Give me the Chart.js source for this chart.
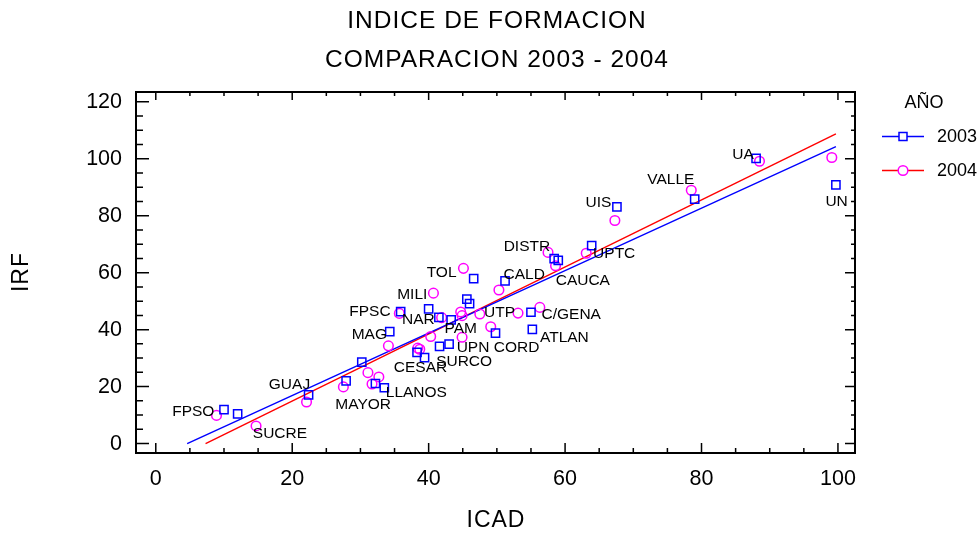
<!DOCTYPE html>
<html>
<head>
<meta charset="utf-8">
<script src="https://cdn.jsdelivr.net/npm/chart.js@4.4.1/dist/chart.umd.min.js"></script>
<style>
  body { margin: 0; background: #fff; }
  #wrap { width: 979px; height: 536px; }
</style>
</head>
<body>
<div id="wrap"><canvas id="myChart" width="979" height="536"></canvas></div>
<script>
// ICAD (x) and IRF (y) per university
var icad2003 = [10.0, 12.0, 22.4, 27.9, 30.2, 32.2, 33.5, 34.3, 35.9, 38.3, 39.4, 40.0, 41.5, 43.3, 41.6,
                43.0, 45.6, 46.0, 46.6, 49.8, 51.2, 55.0, 55.2, 58.4, 59.0, 63.9, 67.6, 79.0, 88.0, 99.7];
var irf2003  = [11.9, 10.4, 17.1, 22.0, 28.6, 21.1, 19.6, 39.3, 46.3, 32.0, 30.2, 47.3, 44.3, 43.4, 34.1,
                34.9, 50.7, 49.1, 57.9, 38.8, 57.1, 46.1, 40.1, 64.9, 64.3, 69.5, 83.1, 85.8, 100.1, 90.8];
var icad2004 = [8.9, 14.7, 22.1, 27.5, 31.1, 31.7, 32.7, 34.1, 35.7, 38.4, 38.7, 40.3, 40.7, 41.9, 44.7,
                44.9, 44.9, 45.1, 47.5, 49.1, 50.3, 53.1, 56.3, 57.5, 58.6, 63.1, 67.3, 78.5, 88.5, 99.1];
var irf2004  = [9.9, 6.2, 14.6, 19.9, 24.9, 20.9, 23.4, 34.3, 45.7, 33.5, 33.1, 37.6, 52.8, 44.2, 46.2,
                44.9, 37.3, 61.5, 45.5, 41.0, 53.9, 45.8, 47.8, 67.1, 62.4, 66.8, 78.3, 88.9, 99.1, 100.4];

// fitted lines, end points as seen in the picture
var fitX2003 = [4.6, 99.7];
var fitY2003 = [0, 104.2];
var fitX2004 = [7.3, 99.7];
var fitY2004 = [0, 108.7];

// point names and where they sit
var names  = ["FPSO", "SUCRE", "GUAJ", "MAYOR", "LLANOS", "CESAR", "SURCO", "UPN", "CORD", "ATLAN", "PAM", "NAR", "MAG",
              "FPSC", "MILI", "TOL", "CALD", "DISTR", "CAUCA", "UTP", "C/GENA", "UPTC", "UIS", "VALLE", "UA", "UN"];
var nameX  = [5.5, 18.2, 19.6, 30.4, 38.2, 38.8, 45.2, 46.5, 52.9, 59.9, 44.7, 38.5, 31.3,
              31.4, 37.6, 41.9, 54.0, 54.4, 62.6, 50.4, 60.9, 67.2, 64.9, 75.5, 86.1, 99.8];
var nameY  = [11.1, 3.5, 20.7, 13.7, 17.8, 26.7, 28.8, 33.5, 33.5, 37.0, 40.3, 43.5, 38.3,
              46.2, 52.2, 60.0, 59.2, 69.2, 57.2, 46.0, 45.2, 66.5, 84.4, 92.5, 101.5, 84.9];

var xTicks = [0, 20, 40, 60, 80, 100];
var yTicks = [0, 20, 40, 60, 80, 100, 120];
var years = ["2003", "2004"];

var FONT = "'Liberation Sans', Arial, sans-serif";

function toPoints(xs, ys) {
    var out = [];
    for (var i = 0; i < xs.length; i++) {
        out.push({x: xs[i], y: ys[i]});
    }
    return out;
}

// frame, inward ticks, names, titles and legend
var extras = {
    id: 'extras',
    afterDraw: function(chart) {
        var ctx = chart.ctx;
        var a = chart.chartArea;
        var xs = chart.scales.x, ys = chart.scales.y;
        ctx.save();
        ctx.strokeStyle = '#000';
        ctx.lineWidth = 2;
        ctx.strokeRect(a.left, a.top, a.right - a.left, a.bottom - a.top);

        ctx.lineWidth = 1.5;
        ctx.beginPath();
        for (var v = 0; v <= 100; v += 5) {
            var px = xs.getPixelForValue(v);
            var big = (v % 20 == 0);
            ctx.moveTo(px, a.bottom); ctx.lineTo(px, a.bottom - (big ? 10 : 5));
            ctx.moveTo(px, a.top); ctx.lineTo(px, a.top + (big ? 8 : 4));
        }
        for (var w = 0; w <= 120; w += 5) {
            var py = ys.getPixelForValue(w);
            var big2 = (w % 20 == 0);
            ctx.moveTo(a.left, py); ctx.lineTo(a.left + (big2 ? 13 : 7), py);
            ctx.moveTo(a.right, py); ctx.lineTo(a.right - (big2 ? 10 : 4), py);
        }
        ctx.stroke();

        ctx.fillStyle = '#000';
        ctx.textAlign = 'center';
        ctx.textBaseline = 'middle';
        ctx.font = '15.5px ' + FONT;
        for (var i = 0; i < names.length; i++) {
            ctx.fillText(names[i], xs.getPixelForValue(nameX[i]), ys.getPixelForValue(nameY[i]));
        }

        ctx.letterSpacing = '1px';
        ctx.font = '24.5px ' + FONT;
        ctx.fillText('INDICE DE FORMACION', 497, 21);
        ctx.fillText('COMPARACION 2003 - 2004', 497, 60);
        ctx.font = '23px ' + FONT;
        ctx.fillText('ICAD', 496, 521);
        ctx.save();
        ctx.translate(22, 272);
        ctx.rotate(-Math.PI / 2);
        ctx.fillText('IRF', 0, 0);
        ctx.restore();

        // legend
        ctx.letterSpacing = '0px';
        ctx.font = '18px ' + FONT;
        ctx.fillText('AÑO', 924, 103);
        ctx.textAlign = 'left';
        var rows = [136.5, 170.5];
        var lineCol = ['#0000ff', '#ff0000'];
        var markCol = ['#0000ff', '#ff00ff'];
        for (var k = 0; k < 2; k++) {
            ctx.strokeStyle = lineCol[k];
            ctx.lineWidth = 1.5;
            ctx.beginPath();
            ctx.moveTo(882, rows[k]); ctx.lineTo(924, rows[k]);
            ctx.stroke();
            ctx.strokeStyle = markCol[k];
            ctx.fillStyle = '#fff';
            ctx.beginPath();
            if (k == 0) {
                ctx.rect(899, rows[k] - 4, 8, 8);
            } else {
                ctx.arc(903, rows[k], 4.8, 0, Math.PI * 2);
            }
            ctx.fill();
            ctx.stroke();
            ctx.fillStyle = '#000';
            ctx.fillText(years[k], 937, rows[k] + 1);
        }
        ctx.restore();
    }
};

const ctx = document.getElementById('myChart');
const myChart = new Chart(ctx, {
    type: 'scatter',
    data: {
        datasets: [{
            label: '2003',
            data: toPoints(icad2003, irf2003),
            pointStyle: 'rect',
            pointRadius: 5.8,
            borderColor: '#0000ff',
            backgroundColor: 'rgba(0,0,0,0)',
            borderWidth: 1.5
        }, {
            label: '2004',
            data: toPoints(icad2004, irf2004),
            pointStyle: 'circle',
            pointRadius: 4.8,
            borderColor: '#ff00ff',
            backgroundColor: 'rgba(0,0,0,0)',
            borderWidth: 1.5
        }, {
            label: 'fit 2003',
            data: toPoints(fitX2003, fitY2003),
            showLine: true,
            pointRadius: 0,
            borderColor: '#0000ff',
            borderWidth: 1.4
        }, {
            label: 'fit 2004',
            data: toPoints(fitX2004, fitY2004),
            showLine: true,
            pointRadius: 0,
            borderColor: '#ff0000',
            borderWidth: 1.4
        }]
    },
    options: {
        responsive: false,
        animation: false,
        devicePixelRatio: 1,
        layout: { padding: { left: 0, top: 92, right: 124, bottom: 0 } },
        plugins: {
            legend: { display: false },
            tooltip: { enabled: false }
        },
        scales: {
            x: {
                type: 'linear',
                min: -2.9,
                max: 102.5,
                grid: { display: false, drawTicks: false },
                border: { display: false },
                afterBuildTicks: function(scale) {
                    scale.ticks = xTicks.map(function(v) { return {value: v}; });
                },
                afterFit: function(scale) { scale.height = 83; },
                ticks: { color: '#000', padding: 13, maxRotation: 0, font: { family: FONT, size: 21.5 } }
            },
            y: {
                type: 'linear',
                min: -3.3,
                max: 123.4,
                grid: { display: false, drawTicks: false },
                border: { display: false },
                afterBuildTicks: function(scale) {
                    scale.ticks = yTicks.map(function(v) { return {value: v}; });
                },
                afterFit: function(scale) { scale.width = 136; },
                ticks: { color: '#000', padding: 14, font: { family: FONT, size: 21.5 } }
            }
        }
    },
    plugins: [extras]
});
</script>
</body>
</html>
